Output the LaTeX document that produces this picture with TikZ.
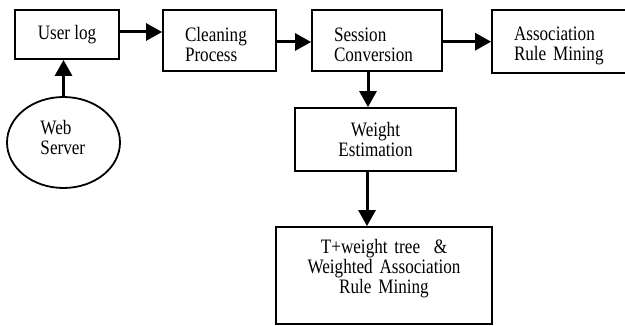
\documentclass[tikz,border=0pt]{standalone}
\usepackage{fontspec}
\setmainfont{Liberation Serif}
\newfontfamily\boxfont[FakeStretch=0.835]{Liberation Serif}
\usetikzlibrary{arrows.meta, shapes.geometric, positioning}

\begin{document}
\begin{tikzpicture}[x=1pt, y=-1pt,
        box/.style={draw, line width=1.8pt, inner xsep=22pt, inner ysep=0pt,
            font=\boxfont\fontsize{20.5}{20}\selectfont},
        arr/.style={line width=3pt, -{Triangle[length=16pt, width=17pt]}}]
        \useasboundingbox (0,0) rectangle (625,326);
        \clip (0,0) rectangle (625,326);

        % 上面一行
        \node[box, minimum width=104pt, minimum height=49pt] (userlog) at (67,34.5) {User log};
        \node[box, minimum width=113pt, minimum height=61pt, text width=69pt, text height=21.5pt, align=left] (clean) at (219.5,40.5) {Cleaning\\Process};
        \node[box, minimum width=130pt, minimum height=61pt, text width=86pt, text height=21.5pt, align=left] (session) at (377,40.5) {Session\\Conversion};
        \node[box, minimum width=150pt, minimum height=63pt, text width=106pt, text height=21.5pt, align=left] (assoc) at (567,41.5) {Association\\Rule Mining};

        % 左边的 Web Server
        \node[box, ellipse, inner sep=0pt, minimum width=113pt, minimum height=91pt, text width=46pt, text depth=30.5pt, align=left] (web) at (63.5,142.5) {Web\\Server};

        % 中间和下面
        \node[box, minimum width=161pt, minimum height=63pt, align=center] (weight) at (375.5,139.5) {Weight\\Estimation};
        \node[box, minimum width=216pt, minimum height=97pt, text width=172pt, text depth=59pt, align=center] (tree) at (384,275.5) {T+weight tree\ \ \&\\Weighted Association\\Rule Mining};

        % 箭头
        \draw[arr] ([yshift=2.5pt]userlog.east) -- ([yshift=2.5pt]userlog.east -| clean.west);
        \draw[arr] ([yshift=-1.5pt]clean.east) -- ([yshift=-1.5pt]clean.east -| session.west);
        \draw[arr] ([yshift=-1.2pt]session.east) -- ([yshift=-1.2pt]session.east -| assoc.west);
        \draw[arr] (web.north) -- (web.north |- userlog.south);
        \draw[arr] ([xshift=-9pt]session.south) -- ([xshift=-9pt]session.south |- weight.north);
        \draw[arr] ([xshift=-8.5pt]weight.south) -- ([xshift=-8.5pt]weight.south |- tree.north);
    \end{tikzpicture}
\end{document}
